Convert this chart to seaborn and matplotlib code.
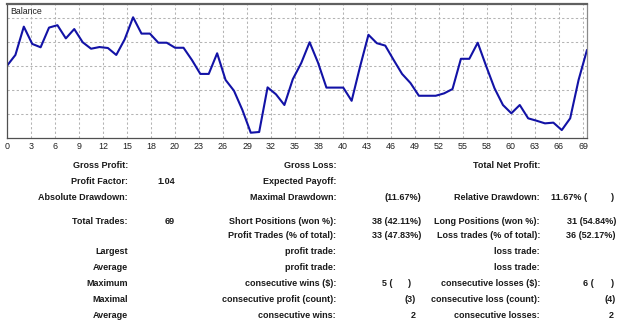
import numpy as np
import pandas as pd
import matplotlib
matplotlib.use("Agg")
import matplotlib.pyplot as plt
import seaborn as sns

# ---------------- data ----------------
trade_index = list(range(70))
balance = [3.01, 3.46, 4.64, 3.92, 3.78, 4.60, 4.70, 4.15, 4.54, 3.99,
           3.72, 3.79, 3.75, 3.46, 4.11, 5.03, 4.35, 4.35, 3.97, 3.97,
           3.76, 3.76, 3.25, 2.67, 2.67, 3.53, 2.42, 1.97, 1.17, 0.22,
           0.25, 2.11, 1.82, 1.375, 2.45, 3.12, 3.99, 3.14, 2.10, 2.10,
           2.10, 1.55, 2.97, 4.30, 3.95, 3.85, 3.25, 2.67, 2.29, 1.76,
           1.76, 1.76, 1.86, 2.04, 3.30, 3.30, 3.97, 3.00, 2.07, 1.375,
           1.03, 1.375, 0.82, 0.72, 0.61, 0.64, 0.33, 0.82, 2.42, 3.67]
x_tick_labels = ["0", "3", "6", "9", "12", "15", "18", "20", "23", "26", "29", "32",
                 "35", "38", "40", "43", "46", "49", "52", "55", "58", "60", "63",
                 "66", "69"]
chart_title = "Balance"

col1_labels = ["Gross Profit:", "Profit Factor:", "Absolute Drawdown:", "Total Trades:",
               "Largest", "Average", "Maximum", "Maximal", "Average"]
col1_rows = [0, 1, 2, 3, 5, 6, 7, 8, 9]
col1_values = {1: "1.04", 3: "69"}

col2_labels = ["Gross Loss:", "Expected Payoff:", "Maximal Drawdown:",
               "Short Positions (won %):", "Profit Trades (% of total):",
               "profit trade:", "profit trade:", "consecutive wins ($):",
               "consecutive profit (count):", "consecutive wins:"]
col2_values = {2: "(11.67%)", 3: "38 (42.11%)", 4: "33 (47.83%)",
               8: "(3)", 9: "2"}

col3_labels = ["Total Net Profit:", "", "Relative Drawdown:",
               "Long Positions (won %):", "Loss trades (% of total):",
               "loss trade:", "loss trade:", "consecutive losses ($):",
               "consecutive loss (count):", "consecutive losses:"]
col3_values = {3: "31 (54.84%)", 4: "36 (52.17%)", 8: "(4)", 9: "2"}

col2_split = {7: ("5 (", ")")}
col3_split = {2: ("11.67% (", ")"), 7: ("6 (", ")")}

# ---------------- style ----------------
sns.set_theme(style="white")
plt.rcParams["font.family"] = ["Liberation Sans", "DejaVu Sans"]

W, H = 625, 322
fig = plt.figure(figsize=(W / 100, H / 100), dpi=100)
fig.patch.set_facecolor("white")

ax_left, ax_right, ax_top, ax_bot = 7, 587, 4, 138
ax = fig.add_axes([ax_left / W, 1 - ax_bot / H,
                   (ax_right - ax_left) / W, (ax_bot - ax_top) / H])

df = pd.DataFrame({"trade": trade_index, "balance": balance})
sns.lineplot(data=df, x="trade", y="balance", ax=ax, color="#1212a6",
             linewidth=1.5, legend=False)

ax.set_xlim(0, 69)
ax.set_ylim(0, (ax_bot - ax_top) / 24)
ax.set_xlabel("")
ax.set_ylabel("")

step = 24 / ((ax_right - ax_left) / 69)
xt = np.arange(len(x_tick_labels)) * step
ax.set_xticks(xt)
ax.set_xticklabels(x_tick_labels, fontsize=6.4, color="#202020")
ax.set_yticks([1, 2, 3, 4, 5])
ax.set_yticklabels([])
ax.tick_params(axis="both", length=0, pad=3)
ax.tick_params(axis="y", left=False, labelleft=False)

ax.grid(True, which="major", axis="both", color="#b4b4b4",
        linestyle=(0, (2.2, 2.2)), linewidth=0.75)
ax.set_axisbelow(True)

for side in ["left", "bottom", "right"]:
    ax.spines[side].set_visible(True)
    ax.spines[side].set_color("#505050")
    ax.spines[side].set_linewidth(0.9)
ax.spines["right"].set_color("#8a8a8a")
ax.spines["top"].set_visible(True)
ax.spines["top"].set_color("#606060")
ax.spines["top"].set_linewidth(1.6)

ax.text(3 / (ax_right - ax_left), 1 - 7 / (ax_bot - ax_top), chart_title,
        transform=ax.transAxes, fontsize=6.3, color="#202020",
        ha="left", va="center")

# ---------------- table ----------------
row_y = [165, 181, 197, 221, 236, 252, 268, 284, 300, 315]
fs = 6.5
tc = "#1a1a1a"


def put(x, y, s, ha):
    fig.text(x / W, 1 - y / H, s, ha=ha, va="center", fontsize=fs,
             fontweight="bold", color=tc)


for r, lab in zip(col1_rows, col1_labels):
    put(128, row_y[r], lab, "right")
for r, v in col1_values.items():
    put(175, row_y[r], v, "right")

for r, lab in enumerate(col2_labels):
    if lab:
        put(336, row_y[r], lab, "right")
for r, v in col2_values.items():
    put(421 if r < 5 else 416, row_y[r], v, "right")
for r, (a, b) in col2_split.items():
    put(382, row_y[r], a, "left")
    put(411, row_y[r], b, "right")

for r, lab in enumerate(col3_labels):
    if lab:
        put(540, row_y[r], lab, "right")
for r, v in col3_values.items():
    put(616 if r < 9 else 614, row_y[r], v, "right")
for r, (a, b) in col3_split.items():
    put(551 if r == 2 else 583, row_y[r], a, "left")
    put(614, row_y[r], b, "right")

fig.savefig("out.png", dpi=100, facecolor="white")
